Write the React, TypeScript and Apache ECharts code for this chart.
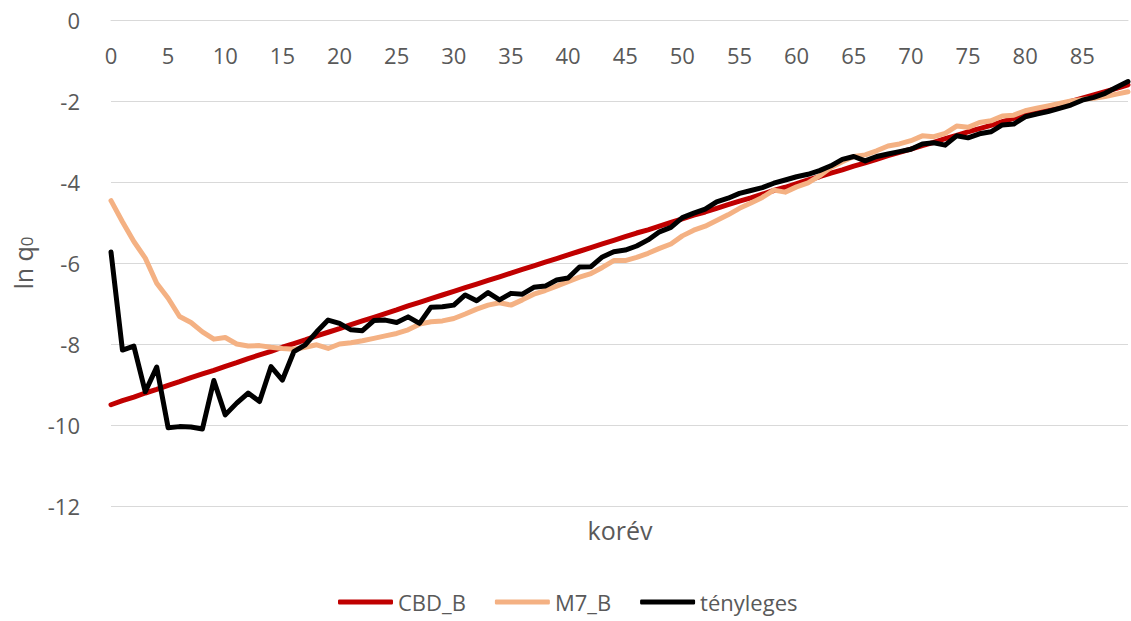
import React, { useEffect, useRef } from "react";
import * as echarts from "echarts";

const ages: string[] = Array.from({ length: 90 }, (_, i) => String(i));

const cbdB: number[] = [
  -9.5, -9.4, -9.31, -9.21, -9.12, -9.02, -8.93, -8.83, -8.74, -8.65,
  -8.55, -8.46, -8.36, -8.27, -8.18, -8.08, -7.99, -7.9, -7.8, -7.71,
  -7.62, -7.52, -7.43, -7.34, -7.25, -7.16, -7.06, -6.97, -6.88, -6.79,
  -6.7, -6.61, -6.52, -6.43, -6.34, -6.25, -6.16, -6.07, -5.98, -5.89,
  -5.8, -5.71, -5.62, -5.53, -5.44, -5.35, -5.26, -5.18, -5.09, -5.0,
  -4.91, -4.82, -4.74, -4.65, -4.56, -4.47, -4.39, -4.3, -4.21, -4.13,
  -4.04, -3.95, -3.87, -3.78, -3.7, -3.61, -3.53, -3.44, -3.35, -3.27,
  -3.19, -3.1, -3.02, -2.93, -2.85, -2.76, -2.68, -2.6, -2.51, -2.43,
  -2.35, -2.26, -2.18, -2.1, -2.01, -1.93, -1.85, -1.77, -1.69, -1.6,
];

const m7B: number[] = [
  -4.46, -4.98, -5.47, -5.88, -6.5, -6.87, -7.32, -7.47, -7.7, -7.88,
  -7.84, -8.0, -8.05, -8.04, -8.08, -8.11, -8.13, -8.08, -8.02, -8.11,
  -8.0, -7.97, -7.92, -7.86, -7.8, -7.74, -7.65, -7.51, -7.45, -7.43,
  -7.37, -7.26, -7.14, -7.04, -6.98, -7.04, -6.91, -6.77, -6.68, -6.57,
  -6.46, -6.35, -6.26, -6.11, -5.94, -5.94, -5.86, -5.76, -5.64, -5.53,
  -5.33, -5.19, -5.09, -4.95, -4.81, -4.65, -4.52, -4.38, -4.2, -4.25,
  -4.12, -4.02, -3.85, -3.64, -3.5, -3.37, -3.33, -3.23, -3.11, -3.06,
  -2.98, -2.86, -2.88, -2.8, -2.62, -2.65, -2.53, -2.49, -2.37, -2.35,
  -2.24, -2.18, -2.12, -2.06, -2.0, -1.96, -1.93, -1.89, -1.83, -1.77,
];

const actual: number[] = [
  -5.73, -8.15, -8.05, -9.18, -8.57, -10.07, -10.04, -10.05, -10.1, -8.9,
  -9.75, -9.46, -9.21, -9.42, -8.56, -8.89, -8.19, -8.02, -7.7, -7.41,
  -7.49, -7.65, -7.67, -7.42, -7.41, -7.47, -7.33, -7.49, -7.09, -7.08,
  -7.04, -6.79, -6.93, -6.73, -6.91, -6.75, -6.77, -6.6, -6.57, -6.42,
  -6.37, -6.1, -6.09, -5.85, -5.72, -5.68, -5.58, -5.43, -5.23, -5.12,
  -4.88, -4.77, -4.67, -4.49, -4.4, -4.28, -4.21, -4.14, -4.03, -3.95,
  -3.87, -3.81, -3.72, -3.6, -3.44, -3.37, -3.48, -3.37, -3.31, -3.25,
  -3.19, -3.06, -3.03, -3.09, -2.86, -2.91, -2.81, -2.76, -2.59, -2.57,
  -2.39, -2.32, -2.26, -2.18, -2.1, -1.98, -1.91, -1.81, -1.66, -1.52,
];

const seriesNames = ["CBD_B", "M7_B", "tényleges"];
const FONT = "Open Sans";
const TXT = "#595959";

export default function App() {
  const ref = useRef<HTMLDivElement>(null);
  useEffect(() => {
    if (!ref.current) return;
    const chart = echarts.init(ref.current, null, { renderer: "svg" });
    const mkLine = (name: string, data: number[], color: string, width: number) => ({
      name,
      type: "line",
      data,
      symbol: "none",
      showSymbol: false,
      lineStyle: { color, width, cap: "round", join: "round" },
      itemStyle: { color },
    });
    chart.setOption({
      animation: false,
      textStyle: { fontFamily: FONT },
      grid: { left: 111, right: 3, top: 20, bottom: 115, containLabel: false },
      xAxis: {
        type: "category",
        data: ages,
        position: "top",
        boundaryGap: false,
        axisLine: { show: true, lineStyle: { color: "#d9d9d9", width: 1 } },
        axisTick: { show: false },
        splitLine: { show: false },
        axisLabel: {
          inside: true,
          interval: 4,
          margin: 24,
          color: TXT,
          fontSize: 22,
          fontFamily: FONT,
        },
      },
      yAxis: {
        type: "value",
        min: -12,
        max: 0,
        interval: 2,
        axisLine: { show: false },
        axisTick: { show: false },
        splitLine: { show: true, lineStyle: { color: "#d9d9d9", width: 1 } },
        axisLabel: { color: TXT, fontSize: 22, fontFamily: FONT, margin: 31 },
        name: "{a|ln q}{b|0}",
        nameLocation: "middle",
        nameGap: 76,
        nameTextStyle: {
          color: TXT,
          fontFamily: FONT,
          rich: {
            a: { fontSize: 25, color: TXT, fontFamily: FONT, lineHeight: 30, verticalAlign: "bottom" },
            b: { fontSize: 17, color: TXT, fontFamily: FONT, lineHeight: 10, verticalAlign: "bottom" },
          },
        },
      },
      legend: {
        data: seriesNames,
        left: 333,
        top: 586,
        icon: "roundRect",
        itemWidth: 55,
        itemHeight: 5,
        itemGap: 29,
        textStyle: { color: TXT, fontSize: 22, fontFamily: FONT, padding: [0, 0, 0, 0] },
      },
      graphic: [
        {
          type: "text",
          x: 620,
          y: 530,
          style: {
            text: "korév",
            fill: TXT,
            font: `25px "${FONT}"`,
            textAlign: "center",
            textVerticalAlign: "middle",
          },
        },
      ],
      series: [
        mkLine(seriesNames[0], cbdB, "#C00000", 5),
        mkLine(seriesNames[1], m7B, "#F4B183", 5),
        mkLine(seriesNames[2], actual, "#000000", 5),
      ],
    });
    return () => chart.dispose();
  }, []);
  return (
    <div
      ref={ref}
      style={{ position: "absolute", left: 0, top: 0, width: 1131, height: 621 }}
    />
  );
}
